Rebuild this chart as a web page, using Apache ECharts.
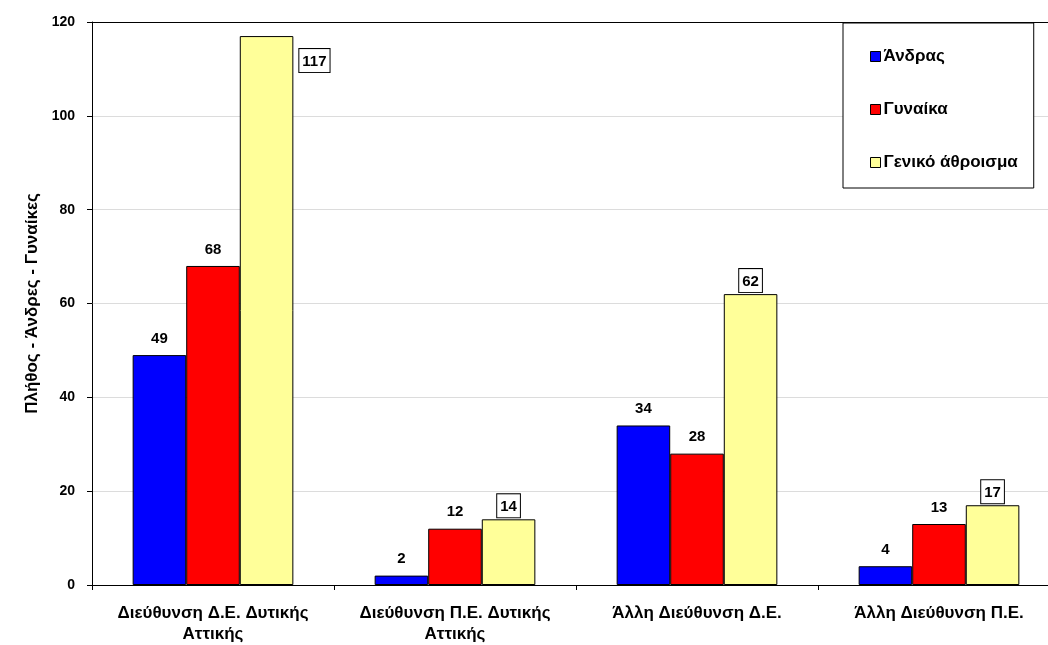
<!DOCTYPE html>
<html><head><meta charset="utf-8">
<script src="https://cdn.jsdelivr.net/npm/echarts@6/dist/echarts.min.js"></script>
<style>html,body{margin:0;padding:0;background:#fff;overflow:hidden}#c{width:1060px;height:645px}</style>
</head><body><div id="c"></div>
<script>
const categories = ['Διεύθυνση Δ.Ε. Δυτικής\nΑττικής', 'Διεύθυνση Π.Ε. Δυτικής\nΑττικής', 'Άλλη Διεύθυνση Δ.Ε.', 'Άλλη Διεύθυνση Π.Ε.'];
const seriesNames = ['Άνδρας', 'Γυναίκα', 'Γενικό άθροισμα'];
const men = [49, 2, 34, 4];
const women = [68, 12, 28, 13];
const total = [117, 14, 62, 17];
const yTicks = [0, 20, 40, 60, 80, 100, 120];
const yTitle = 'Πλήθος - Άνδρες - Γυναίκες';

const FONT = '"Liberation Sans", Arial, sans-serif';
const chart = echarts.init(document.getElementById('c'), null, {renderer: 'canvas'});

const plainLabel = {show: true, position: 'top', distance: 9, fontFamily: FONT, fontWeight: 'bold', fontSize: 15, color: '#000'};
const boxLabel = {show: true, position: 'top', distance: 2, fontFamily: FONT, fontWeight: 'bold', fontSize: 15, color: '#000',
  backgroundColor: '#fff', borderColor: '#000', borderWidth: 1, padding: [5, 3, 3, 3]};

const totalData = total.map(v => v > yTicks[yTicks.length - 1] - 10
  ? {value: v, label: {position: ['100%', 0], offset: [6, 13], align: 'left'}}
  : v);

chart.setOption({
  animation: false,
  backgroundColor: '#fff',
  textStyle: {fontFamily: FONT},
  grid: {left: 92, top: 22, bottom: 55, right: 0, containLabel: false},
  legend: {
    orient: 'vertical', left: 843, top: 23,
    padding: [25, 16, 17, 27], itemGap: 36,
    itemWidth: 10, itemHeight: 10, icon: 'rect',
    borderColor: '#000', borderWidth: 1, backgroundColor: '#fff',
    itemStyle: {borderColor: '#000', borderWidth: 1},
    textStyle: {fontFamily: FONT, fontWeight: 'bold', fontSize: 17, color: '#000', padding: [0, 0, 0, -2]},
    data: seriesNames
  },
  xAxis: [{
    type: 'category', data: categories,
    axisLine: {lineStyle: {color: '#000', width: 1}},
    axisTick: {show: true, length: 5, lineStyle: {color: '#000'}},
    axisLabel: {fontFamily: FONT, fontWeight: 'bold', fontSize: 17, color: '#000', margin: 18, lineHeight: 21, interval: 0}
  }, {
    type: 'category', data: categories, position: 'top',
    axisLine: {lineStyle: {color: '#000', width: 1}},
    axisTick: {show: false}, axisLabel: {show: false}
  }],
  yAxis: {
    type: 'value', min: 0, max: 120, interval: 20,
    name: yTitle, nameLocation: 'middle', nameGap: 51, nameRotate: 90,
    nameTextStyle: {fontFamily: FONT, fontWeight: 'bold', fontSize: 17, color: '#000'},
    axisLine: {show: true, lineStyle: {color: '#000', width: 1}},
    axisTick: {show: true, length: 5, lineStyle: {color: '#000'}},
    axisLabel: {fontFamily: FONT, fontWeight: 'bold', fontSize: 14, color: '#000', margin: 17},
    splitLine: {show: true, lineStyle: {color: '#dcdcdc', width: 1}}
  },
  series: [
    {name: seriesNames[0], type: 'bar', data: men, barGap: '0%', barCategoryGap: '33.6%',
      itemStyle: {color: '#0000ff', borderColor: '#000', borderWidth: 1}, label: plainLabel},
    {name: seriesNames[1], type: 'bar', data: women, barGap: '0%', barCategoryGap: '33.6%',
      itemStyle: {color: '#ff0000', borderColor: '#000', borderWidth: 1}, label: plainLabel},
    {name: seriesNames[2], type: 'bar', data: totalData, barGap: '0%', barCategoryGap: '33.6%',
      itemStyle: {color: '#ffff99', borderColor: '#000', borderWidth: 1}, label: boxLabel}
  ]
});
</script></body></html>
